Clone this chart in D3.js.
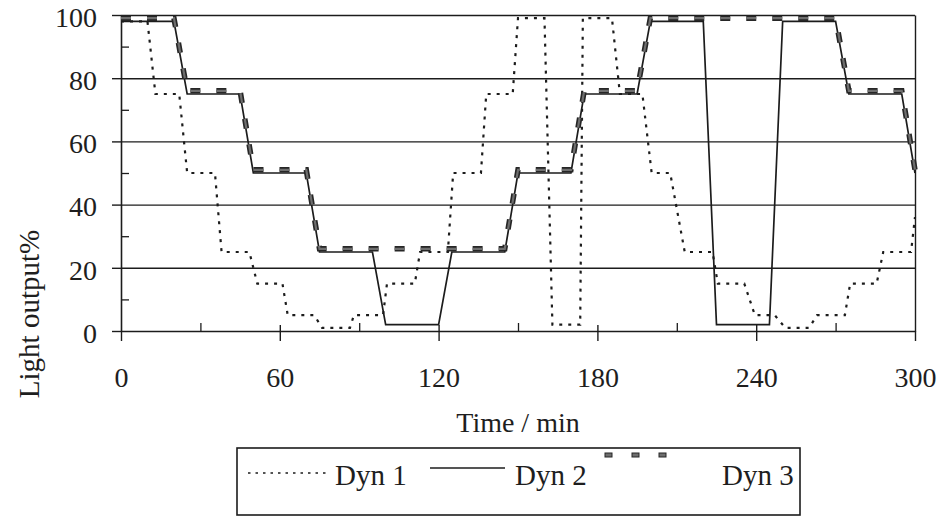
<!DOCTYPE html>
<html>
<head>
<meta charset="utf-8">
<script src="https://cdn.jsdelivr.net/npm/d3@7"></script>
<style>
  html, body { margin: 0; padding: 0; background: #ffffff; }
  svg { display: block; }
  text { font-family: "Liberation Serif", "Times New Roman", serif; fill: #1e1e1e; }
</style>
</head>
<body>
<svg id="chart" width="942" height="519"></svg>
<script>
// ---------------- data ----------------
const xTickLabels = [0, 60, 120, 180, 240, 300];
const xMinorTicks = [30, 90, 150, 210, 270];
const yTickLabels = [0, 20, 40, 60, 80, 100];
const yMinorTicks = [10, 30, 50, 70, 90];

const seriesNames = ["Dyn 1", "Dyn 2", "Dyn 3"];

const dyn1Time  = [0, 10, 13, 22, 25, 35.5, 38, 48.5, 51.5, 61,
                   63, 73, 76, 86.5, 88, 99, 100.5, 111, 113, 123.5,
                   125.5, 136, 138, 148, 150, 160, 163, 173.5, 174.5, 185.5,
                   188.5, 197, 200.5, 207.5, 213, 223.5, 225.5, 235.5, 239.5, 247,
                   251, 260, 263, 273.5, 275.5, 285.5, 288, 298.5, 300];
const dyn1Value = [98, 98, 75, 75, 50, 50, 25, 25, 15, 15,
                   5, 5, 1, 1, 5, 5, 15, 15, 25, 25,
                   50, 50, 75, 75, 99, 99, 2, 2, 99, 99,
                   75, 75, 50, 50, 25, 25, 15, 15, 5, 5,
                   1, 1, 5, 5, 15, 15, 25, 25, 36];

const dyn2Time  = [0, 20, 25, 45, 50, 70, 75, 95, 100, 120,
                   125, 145, 150, 170, 175, 195, 200, 220, 225, 245,
                   250, 270, 275, 295, 300];
const dyn2Value = [98, 98, 75, 75, 50, 50, 25, 25, 2, 2,
                   25, 25, 50, 50, 75, 75, 98, 98, 2, 2,
                   98, 98, 75, 75, 50];

const dyn3Time  = [0, 20, 25, 45, 50, 70, 75, 145, 150, 170,
                   175, 195, 200, 270, 275, 295, 300];
const dyn3Value = [99, 99, 76, 76, 51, 51, 26, 26, 51, 51,
                   76, 76, 99, 99, 76, 76, 51];

// ---------------- layout ----------------
const svg = d3.select("#chart");
const ink = "#1c1c1c";

const x = d3.scaleLinear().domain([0, 300]).range([121, 915]);
const y = d3.scaleLinear().domain([0, 100]).range([331, 15]);

const toPts = (t, v) => t.map((d, i) => [d, v[i]]);
const line = d3.line().x(d => x(d[0])).y(d => y(d[1]));

// horizontal grid lines (incl. top frame at 100)
const grid = svg.append("g")
  .attr("transform", `translate(${x(0)},0)`)
  .call(d3.axisRight(y).tickValues([20, 40, 60, 80, 100]).tickSize(x(300) - x(0)).tickFormat(""));
grid.select(".domain").remove();
grid.selectAll("line").attr("stroke", ink).attr("stroke-width", 1.4);

// left axis with labels and outward ticks
const yAxis = svg.append("g")
  .attr("transform", `translate(${x(0)},0)`)
  .call(d3.axisLeft(y).tickValues(yTickLabels).tickSize(9).tickSizeOuter(0).tickPadding(15));
yAxis.select(".domain").attr("stroke", ink).attr("stroke-width", 1.6);
yAxis.selectAll("line").attr("stroke", ink).attr("stroke-width", 1.4);
yAxis.selectAll("text").attr("font-size", 28).attr("dy", "0.4em")
  .style("font-family", "Liberation Serif, serif").attr("fill", ink);

// left minor ticks (inward)
const yMinor = svg.append("g")
  .attr("transform", `translate(${x(0)},0)`)
  .call(d3.axisRight(y).tickValues(yMinorTicks).tickSize(8).tickFormat(""));
yMinor.select(".domain").remove();
yMinor.selectAll("line").attr("stroke", ink).attr("stroke-width", 1.3);

// right frame
const rightFrame = svg.append("g")
  .attr("transform", `translate(${x(300)},0)`)
  .call(d3.axisRight(y).tickValues([]).tickSizeOuter(0));
rightFrame.select(".domain").attr("stroke", ink).attr("stroke-width", 1.4);

// bottom axis with labels, ticks crossing downward
const xAxis = svg.append("g")
  .attr("transform", `translate(0,${y(0)})`)
  .call(d3.axisBottom(x).tickValues(xTickLabels).tickSize(10).tickSizeOuter(0).tickPadding(26));
xAxis.select(".domain").attr("stroke", ink).attr("stroke-width", 1.6);
xAxis.selectAll("line").attr("stroke", ink).attr("stroke-width", 1.4);
xAxis.selectAll("text").attr("font-size", 28).style("font-family", "Liberation Serif, serif").attr("fill", ink);

// upward ticks (major short, minor)
const xUpMajor = svg.append("g")
  .attr("transform", `translate(0,${y(0)})`)
  .call(d3.axisTop(x).tickValues(xTickLabels.slice(1, 5)).tickSize(6).tickFormat(""));
xUpMajor.select(".domain").remove();
xUpMajor.selectAll("line").attr("stroke", ink).attr("stroke-width", 1.4);
const xUpMinor = svg.append("g")
  .attr("transform", `translate(0,${y(0)})`)
  .call(d3.axisTop(x).tickValues(xMinorTicks).tickSize(8).tickFormat(""));
xUpMinor.select(".domain").remove();
xUpMinor.selectAll("line").attr("stroke", ink).attr("stroke-width", 1.3);

// axis titles
svg.append("text")
  .attr("x", (x(0) + x(300)) / 2).attr("y", 432)
  .attr("text-anchor", "middle").attr("font-size", 28)
  .text("Time / min");
svg.append("text")
  .attr("transform", `translate(29,314) rotate(-90)`)
  .attr("text-anchor", "middle").attr("dominant-baseline", "central")
  .attr("font-size", 29)
  .text("Light output%");

// ---------------- series ----------------
svg.append("path")
  .datum(toPts(dyn1Time, dyn1Value))
  .attr("d", line).attr("fill", "none")
  .attr("stroke", ink).attr("stroke-width", 2.2).attr("stroke-dasharray", "3,6");

svg.append("path")
  .datum(toPts(dyn2Time, dyn2Value))
  .attr("d", line).attr("fill", "none")
  .attr("stroke", ink).attr("stroke-width", 1.7);

const d3pts = toPts(dyn3Time, dyn3Value);
svg.append("path")
  .datum(d3pts)
  .attr("d", line).attr("fill", "none")
  .attr("stroke", "#262626").attr("stroke-width", 5.5).attr("stroke-dasharray", "10,16");
svg.append("path")
  .datum(d3pts)
  .attr("d", line).attr("fill", "none")
  .attr("stroke", "#6e6e6e").attr("stroke-width", 2.2).attr("stroke-dasharray", "10,16");

// ---------------- legend ----------------
const lg = svg.append("g");
lg.append("rect").attr("x", 237).attr("y", 448).attr("width", 563).attr("height", 67)
  .attr("fill", "none").attr("stroke", ink).attr("stroke-width", 1.6);

lg.append("line").attr("x1", 248).attr("x2", 327).attr("y1", 473).attr("y2", 473)
  .attr("stroke", ink).attr("stroke-width", 1.5).attr("stroke-dasharray", "2.5,5");
lg.append("text").attr("x", 335).attr("y", 485).attr("font-size", 29).text(seriesNames[0]);

lg.append("line").attr("x1", 430).attr("x2", 505).attr("y1", 468).attr("y2", 468)
  .attr("stroke", ink).attr("stroke-width", 1.7);
lg.append("text").attr("x", 515).attr("y", 485).attr("font-size", 29).text(seriesNames[1]);

lg.selectAll("rect.dash").data([0, 1, 2]).enter().append("rect")
  .attr("class", "dash")
  .attr("x", d => 605 + d * 27).attr("y", 453).attr("width", 7).attr("height", 4)
  .attr("fill", "#6e6e6e").attr("stroke", "#262626").attr("stroke-width", 1);
lg.append("text").attr("x", 722).attr("y", 485).attr("font-size", 29).text(seriesNames[2]);
</script>
</body>
</html>
